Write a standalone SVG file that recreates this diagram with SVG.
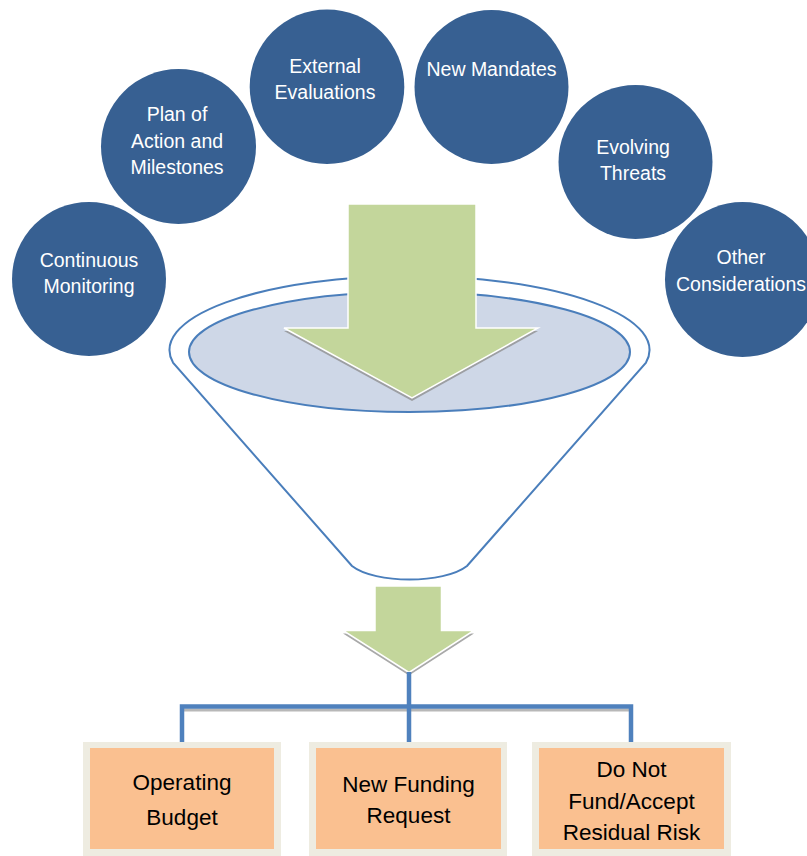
<svg xmlns="http://www.w3.org/2000/svg" width="807" height="856" viewBox="0 0 807 856">
  <style>
    .circ { fill: #376092; }
    .ctext { font-family: "Liberation Sans", Arial, sans-serif; font-size: 19.5px; fill: #ffffff; text-anchor: middle; }
    .btext { font-family: "Liberation Sans", Arial, sans-serif; font-size: 22.5px; fill: #000000; text-anchor: middle; }
    .outer { fill: #EEECE1; }
    .inner { fill: #FAC090; }
    .arrow { fill: #C3D69B; stroke: #ffffff; stroke-width: 1.5; stroke-linejoin: miter; }
    .ashadow { fill: #8c8c8c; opacity: 0.75; }
    .conn { fill: none; stroke: #4F81BD; stroke-width: 4.5; }
    .connsh { fill: none; stroke: #9a9a9a; stroke-width: 3; opacity: 0.7; }
    .funnel { fill: none; stroke: #4A7EBB; stroke-width: 2; }
  </style>
  <rect width="807" height="856" fill="#ffffff"/>

  <g id="node-continuous-monitoring">
    <circle class="circ" cx="89" cy="279" r="77"/>
    <text class="ctext" x="89" y="266.5">Continuous</text>
    <text class="ctext" x="89" y="292.5">Monitoring</text>
  </g>
  <g id="node-poam">
    <circle class="circ" cx="178.5" cy="146.5" r="77.5"/>
    <text class="ctext" x="177" y="121">Plan of</text>
    <text class="ctext" x="177" y="147.5">Action and</text>
    <text class="ctext" x="177" y="174">Milestones</text>
  </g>
  <g id="node-external-evaluations">
    <circle class="circ" cx="327" cy="86.7" r="77.3"/>
    <text class="ctext" x="325" y="73">External</text>
    <text class="ctext" x="325" y="99">Evaluations</text>
  </g>
  <g id="node-new-mandates">
    <circle class="circ" cx="491.5" cy="87" r="77"/>
    <text class="ctext" x="491.5" y="76">New Mandates</text>
  </g>
  <g id="node-evolving-threats">
    <circle class="circ" cx="635.5" cy="162" r="77"/>
    <text class="ctext" x="633" y="154">Evolving</text>
    <text class="ctext" x="633" y="180">Threats</text>
  </g>
  <g id="node-other-considerations">
    <circle class="circ" cx="742.5" cy="279.5" r="77.5"/>
    <text class="ctext" x="741" y="264">Other</text>
    <text class="ctext" x="741" y="291">Considerations</text>
  </g>

  <g id="node-funnel">
    <path class="funnel" d="M173,362.6 A240,74 0 1 1 646,362.6 L467,566 C444,584 375,584 352,566 Z" fill="#ffffff"/>
    <ellipse cx="409.5" cy="352" rx="220.5" ry="60" fill="#CED7E7" stroke="#4A7EBB" stroke-width="2"/>
  </g>

  <g id="node-big-arrow">
    <polygon class="ashadow" transform="translate(0,3)" points="348,204 476,204 476,328 538,328 412,398 284,328 348,328"/>
    <polygon class="arrow" points="348,204 476,204 476,328 538,328 412,398 284,328 348,328"/>
  </g>

  <g id="node-small-arrow">
    <polygon class="ashadow" transform="translate(0,3)" points="375,586 441.5,586 441.5,630.5 474,630.5 409,672.5 343,630.5 375,630.5"/>
    <polygon class="arrow" points="375,586 441.5,586 441.5,630.5 474,630.5 409,672.5 343,630.5 375,630.5"/>
  </g>

  <g id="connectors">
    <path class="connsh" d="M182,710 L631,710"/>
    <path class="conn" d="M409,672 L409,748 M182,748 L182,706.5 L631,706.5 L631,748"/>
  </g>

  <g id="node-operating-budget">
    <rect class="outer" x="83" y="742" width="198" height="114"/>
    <rect class="inner" x="90" y="748" width="184" height="101"/>
    <text class="btext" x="182" y="790">Operating</text>
    <text class="btext" x="182" y="825">Budget</text>
  </g>
  <g id="node-new-funding-request">
    <rect class="outer" x="309" y="742" width="198" height="114"/>
    <rect class="inner" x="316" y="748" width="185" height="101"/>
    <text class="btext" x="408.5" y="792">New Funding</text>
    <text class="btext" x="408.5" y="823">Request</text>
  </g>
  <g id="node-do-not-fund">
    <rect class="outer" x="532" y="742" width="199" height="114"/>
    <rect class="inner" x="539" y="748" width="185" height="101"/>
    <text class="btext" x="631.5" y="777">Do Not</text>
    <text class="btext" x="631.5" y="809">Fund/Accept</text>
    <text class="btext" x="631.5" y="840">Residual Risk</text>
  </g>
</svg>
